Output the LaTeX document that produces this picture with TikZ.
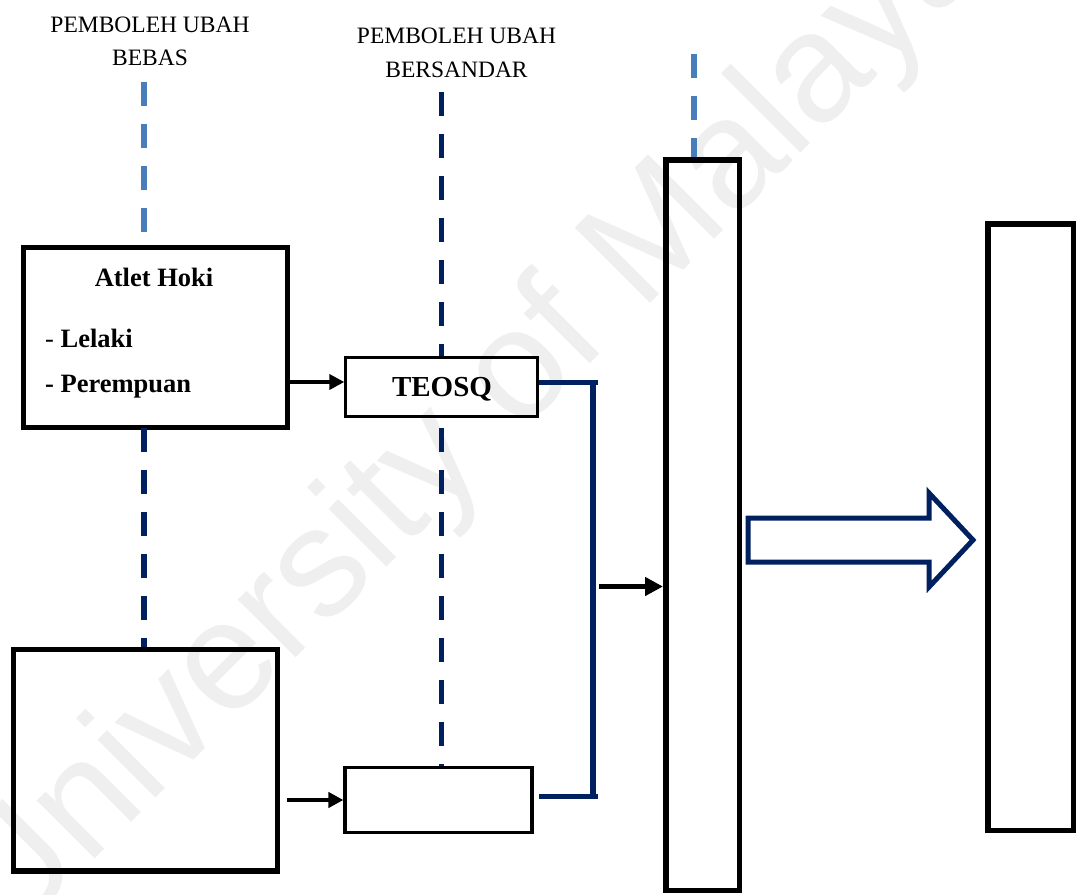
\documentclass[tikz,border=0pt]{standalone}
\usepackage{fontspec}
\setmainfont{Liberation Serif}
\newfontfamily\wmfont{Liberation Sans}
\usetikzlibrary{arrows.meta}
\definecolor{steel}{RGB}{74,126,187}
\definecolor{navy}{RGB}{0,32,96}
\definecolor{wmgray}{RGB}{239,239,239}
\tikzset{
  thickbox/.style={draw=black, line width=5.5pt, inner sep=0pt},
  thinbox/.style={draw=black, line width=3pt, inner sep=0pt},
  lbl/.style={anchor=base, inner sep=0pt, font=\fontsize{23.5}{28}\selectfont},
  bold/.style={inner sep=0pt, font=\bfseries\fontsize{26.5}{30}\selectfont},
  dashblue/.style={draw=steel, line width=5.5pt, dash pattern=on 24pt off 18pt},
  dashnavy/.style={draw=navy, line width=5.5pt, dash pattern=on 24pt off 18pt},
  bracket/.style={draw=navy, line width=5.5pt},
  arr/.style={draw=black, line width=4.2pt, -{Triangle[length=15pt,width=15pt]}},
  arrbig/.style={draw=black, line width=5.5pt, -{Triangle[length=18pt,width=18pt]}},
  blockarrow/.style={draw=navy, line width=5pt, line join=miter}
}
\begin{document}
\begin{tikzpicture}[x=1pt,y=-1pt]
\useasboundingbox (0,0) rectangle (1076,894);
% watermark
\node[rotate=45, text=wmgray, inner sep=0pt, font=\wmfont\fontsize{155}{155}\selectfont] (wm) at (473,424) {University of Malaya};

% header labels
\node[lbl] (l1a) at (150,32) {PEMBOLEH UBAH};
\node[lbl] (l1b) at (150,65) {BEBAS};
\node[lbl] (l2a) at (456.5,43) {PEMBOLEH UBAH};
\node[lbl] (l2b) at (456.5,77) {BERSANDAR};

% boxes
\node[thickbox, line width=5pt, minimum width=264pt, minimum height=180pt] (atlet) at (155.5,337.5) {};
\node[thickbox, minimum width=264pt, minimum height=221.5pt] (bl) at (145.4,760) {};
\node[thinbox, minimum width=192pt, minimum height=58.7pt] (teosq) at (441.8,386.8) {};
\node[thinbox, line width=3.5pt, minimum width=187pt, minimum height=65pt] (bm) at (438.7,800) {};
\node[thickbox, minimum width=73.5pt, minimum height=730.5pt] (tall) at (702.5,525) {};
\node[thickbox, minimum width=85.5pt, minimum height=606.5pt] (rb) at (1030.5,527) {};

% texts
\node[bold, anchor=base] (t1) at (154,286) {Atlet Hoki};
\node[bold, anchor=base west] (t2) at (45,347) {{\mdseries -} Lelaki};
\node[bold, anchor=base west] (t3) at (45,392) {- Perempuan};
\node[bold, anchor=base, font=\bfseries\fontsize{29}{32}\selectfont] (t4) at (442,396) {TEOSQ};

% dashed lines
\coordinate (a0) at (144,82);
\draw[dashblue] (a0) -- (a0 |- atlet.north);
\coordinate (a2) at (144,428);
\draw[dashnavy] (a2) -- (a2 |- bl.north);
\coordinate (b0) at (441.5,92);
\draw[dashnavy] (b0) -- (b0 |- teosq.north);
\coordinate (b2) at (441.5,428);
\draw[dashnavy] (b2) -- (b2 |- bm.north);
\coordinate (c0) at (694,54);
\draw[dashblue] (c0) -- (c0 |- tall.north);

% arrows
\coordinate (r1) at (290,382);
\draw[arr] (r1) -- (teosq.west |- r1);
\coordinate (r2) at (287,800);
\draw[arr] (r2) -- (bm.west |- r2);
\coordinate (r3) at (599,586.5);
\draw[arrbig] (r3) -- (tall.west |- r3);

% bracket
\coordinate (bt) at (598,382.5);
\coordinate (bb) at (598,796.5);
\coordinate (bms) at ([xshift=5pt]bm.east);
\draw[bracket] (teosq.east |- bt) -- (bt);
\draw[bracket] (bms |- bb) -- (bb);
\coordinate (vt) at (593,380);
\coordinate (vb) at (593,799);
\draw[bracket] (vt) -- (vb);

% block arrow
\draw[blockarrow] (748,518) -- (929,518) -- (929,493) -- (973,540) -- (929,587) -- (929,562) -- (748,562) -- cycle;
\end{tikzpicture}
\end{document}
